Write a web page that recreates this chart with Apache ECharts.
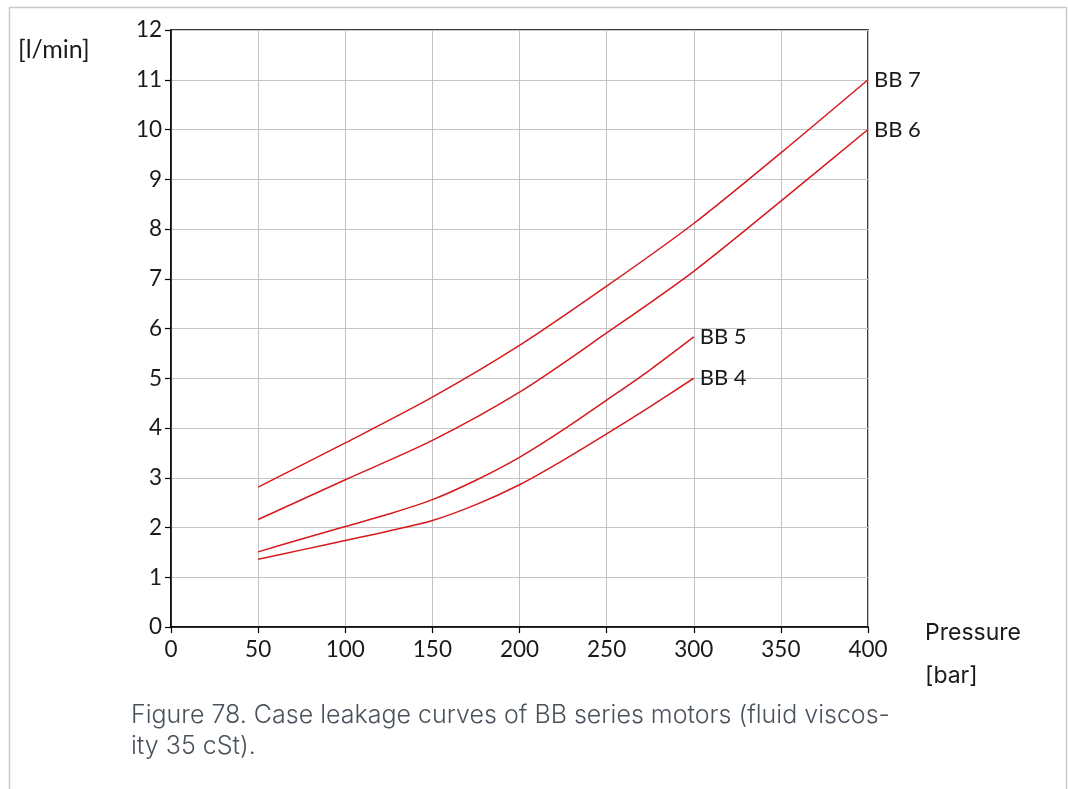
<!DOCTYPE html>
<html><head><meta charset="utf-8">
<script src="https://cdn.jsdelivr.net/npm/echarts@6/dist/echarts.min.js"></script>
<style>html,body{margin:0;padding:0;background:#fff}#c{width:1068px;height:789px}</style>
</head><body><div id="c"></div>
<script>
const xTicks = [0, 50, 100, 150, 200, 250, 300, 350, 400];
const pressureLong = [50, 100, 150, 200, 250, 300, 350, 400];
const pressureShort = [50, 75, 100, 125, 150, 175, 200, 225, 250, 275, 300];
const bb7 = [2.81, 3.70, 4.62, 5.66, 6.85, 8.11, 9.53, 11.0];
const bb6 = [2.16, 2.96, 3.75, 4.72, 5.91, 7.15, 8.56, 10.0];
const bb5 = [1.51, 1.77, 2.02, 2.27, 2.56, 2.95, 3.41, 3.96, 4.56, 5.17, 5.83];
const bb4 = [1.36, 1.55, 1.74, 1.93, 2.14, 2.46, 2.86, 3.35, 3.88, 4.43, 5.00];
const seriesNames = ['BB 7', 'BB 6', 'BB 5', 'BB 4'];

const pair = (xs, ys) => xs.map((x, i) => [x, ys[i]]);
const lblFont = 'Lato, "Liberation Sans", sans-serif';
const mk = (name, data) => ({
  name, type: 'line', data, smooth: 0.3, showSymbol: false,
  lineStyle: { color: '#d7191c', width: 1.5 },
  endLabel: { show: true, formatter: name, color: '#1a1a1a', fontFamily: lblFont, fontSize: 22, distance: 6 }
});

const chart = echarts.init(document.getElementById('c'));
chart.setOption({
  animation: false,
  backgroundColor: '#fff',
  grid: { left: 171, right: 200, top: 30, bottom: 162, show: true, borderColor: '#000', borderWidth: 1.5, backgroundColor: 'transparent' },
  xAxis: {
    type: 'value', min: 0, max: 400, interval: 50,
    axisLine: { show: true, lineStyle: { color: '#000', width: 1.5 } },
    axisTick: { show: true, length: 6, lineStyle: { color: '#000', width: 1.2 } },
    axisLabel: { color: '#1a1a1a', fontFamily: lblFont, fontSize: 22.5, margin: 11, formatter: v => xTicks.includes(v) ? String(v) : '' },
    splitLine: { show: true, lineStyle: { color: '#c4c4c4', width: 1 } }
  },
  yAxis: {
    type: 'value', min: 0, max: 12, interval: 1,
    axisLine: { show: true, lineStyle: { color: '#000', width: 1.5 } },
    axisTick: { show: true, length: 6, lineStyle: { color: '#000', width: 1.2 } },
    axisLabel: { color: '#1a1a1a', fontFamily: lblFont, fontSize: 22.5, margin: 9 },
    splitLine: { show: true, lineStyle: { color: '#c4c4c4', width: 1 } }
  },
  series: [
    mk(seriesNames[0], pair(pressureLong, bb7)),
    mk(seriesNames[1], pair(pressureLong, bb6)),
    mk(seriesNames[2], pair(pressureShort, bb5)),
    mk(seriesNames[3], pair(pressureShort, bb4))
  ],
  graphic: [
    { type: 'rect', silent: true, shape: { x: 9.5, y: 7.5, width: 1057, height: 800 }, style: { fill: 'none', stroke: '#c5cad1', lineWidth: 1.5 } },
    { type: 'text', left: 18, top: 37, style: { text: '[l/min]', fill: '#1a1a1a', font: '25px ' + lblFont } },
    { type: 'text', left: 925, top: 622, style: { text: 'Pressure', fill: '#1a1a1a', font: '23px Inter, "Noto Sans", sans-serif' } },
    { type: 'text', left: 925, top: 665, style: { text: '[bar]', fill: '#1a1a1a', font: '23px Inter, "Noto Sans", sans-serif' } },
    { type: 'text', left: 131, top: 700, style: { text: 'Figure 78. Case leakage curves of BB series motors (fluid viscos-\nity 35 cSt).', fill: '#4a525c', font: '300 25px Inter, "Noto Sans", sans-serif', lineHeight: 31 } }
  ]
});
</script></body></html>
